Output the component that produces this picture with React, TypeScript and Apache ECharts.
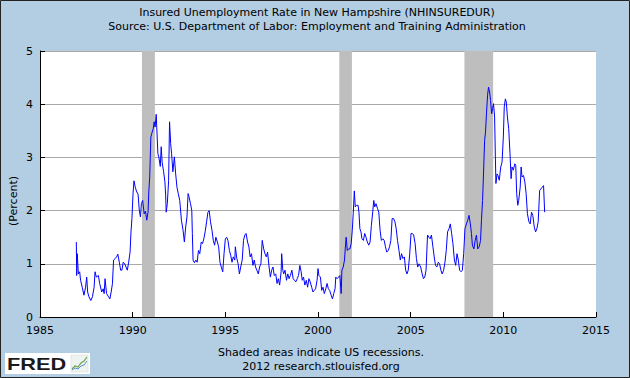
import React, { useEffect, useRef } from "react";
import * as echarts from "echarts";

const years: number[] = [
  1986.96, 1986.98, 1987.01, 1987.07, 1987.14, 1987.19, 1987.28, 1987.37, 1987.46, 1987.52, 1987.57, 1987.64, 1987.74, 1987.83, 1987.92, 1987.97,
  1988.04, 1988.15, 1988.22, 1988.33, 1988.41, 1988.46, 1988.51, 1988.59, 1988.70, 1988.77, 1988.84, 1988.91, 1988.97,
  1989.06, 1989.13, 1989.20, 1989.28, 1989.35, 1989.42, 1989.49, 1989.57, 1989.64, 1989.71, 1989.78, 1989.86, 1989.91, 1989.96,
  1990.02, 1990.07, 1990.14, 1990.22, 1990.29, 1990.36, 1990.42, 1990.47, 1990.54, 1990.62, 1990.69, 1990.76, 1990.83, 1990.87, 1990.92, 1990.98,
  1991.03, 1991.11, 1991.16, 1991.21, 1991.27, 1991.30, 1991.36, 1991.41, 1991.49, 1991.54, 1991.59, 1991.67, 1991.74, 1991.78, 1991.81, 1991.87, 1991.94, 1991.99,
  1992.05, 1992.10, 1992.17, 1992.25, 1992.32, 1992.39, 1992.46, 1992.54, 1992.63, 1992.72, 1992.79, 1992.86, 1992.93, 1992.99,
  1993.04, 1993.12, 1993.19, 1993.22, 1993.26, 1993.33, 1993.41, 1993.48, 1993.55, 1993.62, 1993.70, 1993.77, 1993.84, 1993.91, 1993.99,
  1994.06, 1994.13, 1994.20, 1994.28, 1994.35, 1994.42, 1994.49, 1994.57, 1994.64, 1994.71, 1994.78, 1994.86, 1994.93,
  1995.00, 1995.07, 1995.14, 1995.22, 1995.29, 1995.36, 1995.43, 1995.51, 1995.54, 1995.62, 1995.69, 1995.76, 1995.83, 1995.91, 1995.98,
  1996.05, 1996.12, 1996.20, 1996.27, 1996.34, 1996.41, 1996.49, 1996.56, 1996.63, 1996.70, 1996.78, 1996.85, 1996.92, 1996.99,
  1997.07, 1997.14, 1997.21, 1997.28, 1997.36, 1997.43, 1997.50, 1997.57, 1997.64, 1997.72, 1997.79, 1997.86, 1997.93,
  1998.01, 1998.04, 1998.10, 1998.15, 1998.22, 1998.30, 1998.37, 1998.44, 1998.51, 1998.59, 1998.66, 1998.73, 1998.80, 1998.88, 1998.95,
  1999.02, 1999.09, 1999.15, 1999.22, 1999.29, 1999.37, 1999.44, 1999.51, 1999.58, 1999.66, 1999.73, 1999.80, 1999.87, 1999.95,
  2000.00, 2000.05, 2000.13, 2000.20, 2000.27, 2000.34, 2000.42, 2000.49, 2000.56, 2000.63, 2000.71, 2000.78, 2000.85, 2000.92, 2000.96,
  2001.03, 2001.11, 2001.18, 2001.25, 2001.29, 2001.36, 2001.43, 2001.47, 2001.52, 2001.58, 2001.65, 2001.72, 2001.79, 2001.85, 2001.90, 2001.96,
  2002.01, 2002.08, 2002.16, 2002.21, 2002.26, 2002.32, 2002.37, 2002.45, 2002.52, 2002.59, 2002.66, 2002.74, 2002.81, 2002.88, 2002.95,
  2003.01, 2003.06, 2003.13, 2003.21, 2003.28, 2003.35, 2003.42, 2003.50, 2003.57, 2003.64, 2003.71, 2003.79, 2003.86, 2003.93,
  2004.00, 2004.08, 2004.15, 2004.22, 2004.29, 2004.37, 2004.44, 2004.51, 2004.58, 2004.66, 2004.73, 2004.80, 2004.87, 2004.95,
  2005.02, 2005.09, 2005.16, 2005.24, 2005.31, 2005.38, 2005.45, 2005.54, 2005.62, 2005.69, 2005.76, 2005.83, 2005.91, 2005.98,
  2006.05, 2006.12, 2006.20, 2006.27, 2006.34, 2006.41, 2006.49, 2006.56, 2006.63, 2006.70, 2006.78, 2006.85, 2006.92, 2006.99,
  2007.07, 2007.14, 2007.21, 2007.28, 2007.36, 2007.43, 2007.50, 2007.57, 2007.64, 2007.72, 2007.79, 2007.86, 2007.93,
  2008.01, 2008.08, 2008.15, 2008.22, 2008.28, 2008.33, 2008.41, 2008.48, 2008.55, 2008.62, 2008.70, 2008.77, 2008.82, 2008.88, 2008.93, 2008.99,
  2009.04, 2009.09, 2009.15, 2009.20, 2009.26, 2009.31, 2009.37, 2009.42, 2009.47, 2009.53, 2009.57, 2009.60, 2009.66, 2009.71, 2009.78, 2009.86, 2009.93,
  2010.00, 2010.05, 2010.11, 2010.16, 2010.22, 2010.29, 2010.36, 2010.42, 2010.47, 2010.54, 2010.62, 2010.67, 2010.72, 2010.78, 2010.83, 2010.91, 2010.96,
  2011.01, 2011.09, 2011.16, 2011.23, 2011.30, 2011.38, 2011.45, 2011.52, 2011.59, 2011.67, 2011.74, 2011.81, 2011.88, 2011.96,
  2012.03, 2012.10, 2012.17, 2012.23,
];

const rates: number[] = [
  1.41, 0.78, 1.19, 0.81, 0.85, 0.69, 0.56, 0.41, 0.56, 0.75, 0.47, 0.38, 0.31, 0.38, 0.56, 0.85,
  0.75, 0.78, 0.63, 0.47, 0.53, 0.44, 0.72, 0.44, 0.38, 0.34, 0.47, 0.63, 1.07,
  1.10, 1.13, 1.18, 1.03, 0.88, 0.88, 1.03, 1.00, 0.94, 0.88, 1.02, 1.22, 1.60, 1.85,
  2.32, 2.56, 2.44, 2.35, 2.31, 2.00, 1.88, 2.13, 2.19, 1.94, 1.99, 1.82, 1.97, 2.35, 2.63, 3.38,
  3.45, 3.54, 3.67, 3.57, 3.81, 3.57, 3.07, 3.01, 2.83, 3.20, 2.91, 2.73, 2.54, 2.29, 1.97, 2.13, 2.57, 3.67,
  3.26, 3.07, 2.73, 3.01, 2.69, 2.44, 2.32, 2.19, 1.82, 1.63, 1.41, 1.69, 1.88, 2.32,
  2.26, 2.13, 2.00, 1.57, 1.07, 1.02, 1.07, 1.03, 1.25, 1.19, 1.41, 1.38, 1.47, 1.60, 1.79,
  1.97, 2.00, 1.79, 1.63, 1.44, 1.35, 1.50, 1.41, 1.32, 1.03, 0.94, 0.85, 1.19,
  1.47, 1.50, 1.44, 1.25, 1.16, 1.03, 1.13, 1.07, 1.32, 1.10, 1.00, 0.81, 0.94, 1.07, 1.44,
  1.54, 1.57, 1.41, 1.32, 1.13, 1.19, 0.97, 1.07, 0.94, 0.88, 0.81, 0.94, 1.00, 1.44,
  1.28, 1.19, 1.13, 1.22, 0.94, 0.75, 0.88, 0.94, 0.78, 0.81, 0.63, 0.72, 0.60,
  0.85, 1.19, 0.88, 0.81, 0.88, 0.69, 0.81, 0.72, 0.78, 0.88, 0.72, 0.69, 0.66, 0.72, 0.78,
  0.97, 0.85, 0.69, 0.75, 0.60, 0.69, 0.56, 0.72, 0.66, 0.56, 0.47, 0.50, 0.53, 0.69,
  0.91, 0.78, 0.75, 0.50, 0.56, 0.44, 0.53, 0.63, 0.53, 0.50, 0.41, 0.34, 0.44, 0.53, 0.75,
  0.72, 0.75, 0.78, 0.44, 0.88, 0.94, 1.07, 1.28, 1.50, 1.25, 1.28, 1.28, 1.38, 1.63, 1.94, 2.37,
  2.07, 2.10, 2.10, 1.97, 1.66, 1.60, 1.47, 1.44, 1.57, 1.50, 1.41, 1.35, 1.41, 1.72, 1.97,
  2.19, 2.07, 2.13, 2.04, 1.97, 1.63, 1.44, 1.47, 1.44, 1.32, 1.22, 1.25, 1.32, 1.44,
  1.85, 1.85, 1.79, 1.66, 1.44, 1.25, 1.07, 1.19, 1.10, 1.13, 0.88, 0.81, 0.88, 1.19,
  1.57, 1.57, 1.54, 1.38, 1.10, 0.94, 1.00, 0.94, 0.81, 0.72, 0.75, 0.88, 1.54, 1.50,
  1.47, 1.54, 1.32, 1.13, 0.97, 0.94, 1.03, 1.00, 0.88, 0.81, 0.88, 1.03, 1.25, 1.60,
  1.66, 1.75, 1.57, 1.38, 1.07, 0.97, 1.19, 1.07, 0.88, 0.85, 0.88, 1.19, 1.66,
  1.75, 1.82, 1.91, 1.75, 1.57, 1.35, 1.28, 1.44, 1.54, 1.28, 1.32, 1.44, 1.82, 2.19, 2.69, 3.32,
  3.48, 3.82, 4.17, 4.32, 4.23, 4.07, 3.82, 3.92, 4.01, 3.76, 3.01, 2.51, 2.69, 2.66, 2.57, 2.82, 2.91,
  3.38, 3.95, 4.10, 4.04, 3.76, 3.54, 3.07, 2.60, 2.82, 2.76, 2.88, 2.85, 2.32, 2.10, 2.19, 2.44, 2.82,
  2.63, 2.66, 2.54, 2.32, 1.94, 1.79, 1.75, 1.97, 1.91, 1.69, 1.60, 1.66, 1.79, 2.38,
  2.41, 2.44, 2.47, 1.97,
];

const recessionStarts: number[] = [1990.5, 2001.15, 2007.9];
const recessionEnds: number[] = [1991.2, 2001.83, 2009.45];

const xTicks = { min: 1985, max: 2015, step: 5 };
const yTicks = { min: 0, max: 5, step: 1 };

const titleText = "Insured Unemployment Rate in New Hampshire (NHINSUREDUR)";
const subtitleText = "Source: U.S. Department of Labor: Employment and Training Administration";
const yAxisName = "(Percent)";
const noteText = "Shaded areas indicate US recessions.";
const creditText = "2012 research.stlouisfed.org";
const logoText = "FRED";

const FONT = "DejaVu Sans";

export default function App() {
  const ref = useRef<HTMLDivElement>(null);
  useEffect(() => {
    if (!ref.current) return;
    const chart = echarts.init(ref.current, undefined, { renderer: "svg" });
    const data = years.map((y, i) => [y, rates[i]]);
    const areas = recessionStarts.map((s, i) => [{ xAxis: s }, { xAxis: recessionEnds[i] }]);
    const txt = (text: string, x: number, y: number, extra: any = {}) => ({
      type: "text",
      x,
      y,
      z: 10,
      style: {
        text,
        fill: "#000",
        fontSize: 11,
        fontFamily: FONT,
        align: "center",
        verticalAlign: "middle",
        ...extra,
      },
    });
    chart.setOption({
      animation: false,
      backgroundColor: "#b3cde3",
      grid: {
        left: 40,
        right: 34,
        top: 51,
        bottom: 61,
        show: true,
        backgroundColor: "#ffffff",
        borderWidth: 0,
      },
      xAxis: {
        type: "value",
        min: xTicks.min,
        max: xTicks.max,
        interval: xTicks.step,
        axisLine: { show: true, onZero: false, lineStyle: { color: "#000", width: 1 } },
        axisTick: { show: true, inside: true, length: 5, lineStyle: { color: "#000" } },
        axisLabel: {
          color: "#000",
          fontSize: 11,
          fontFamily: FONT,
          margin: 8,
          formatter: (v: number) => String(v),
        },
        splitLine: { show: false },
      },
      yAxis: {
        type: "value",
        min: yTicks.min,
        max: yTicks.max,
        interval: yTicks.step,
        axisLine: { show: true, lineStyle: { color: "#000", width: 1 } },
        axisTick: { show: true, inside: true, length: 5, lineStyle: { color: "#000" } },
        axisLabel: { color: "#000", fontSize: 11, fontFamily: FONT, margin: 7 },
        splitLine: { show: true, lineStyle: { color: "#aaaaaa", width: 1 } },
      },
      series: [
        {
          type: "line",
          data,
          showSymbol: false,
          symbol: "none",
          lineStyle: { color: "#0000ff", width: 1 },
          itemStyle: { color: "#0000ff" },
          markArea: {
            silent: true,
            itemStyle: { color: "#bebebe", opacity: 1 },
            data: areas,
          },
        },
      ],
      graphic: [
        txt(titleText, 317, 12),
        txt(subtitleText, 317, 26),
        { ...txt(yAxisName, 13, 201), rotation: Math.PI / 2 },
        txt(noteText, 321, 352),
        txt(creditText, 321, 366),
        {
          type: "rect",
          z: 10,
          shape: { x: 5, y: 353, width: 85, height: 21 },
          style: { fill: "#ffffff" },
        },
        {
          type: "text",
          x: 7,
          y: 363.5,
          z: 11,
          scaleX: 1.28,
          style: {
            text: logoText,
            fill: "#1a1a1a",
            fontSize: 17,
            fontWeight: "bold",
            fontFamily: "Liberation Sans",
            align: "left",
            verticalAlign: "middle",
          },
        },
        {
          type: "rect",
          z: 11,
          shape: { x: 71, y: 355, width: 17, height: 17 },
          style: { fill: "#eef2f0", stroke: "#d0d8d4", lineWidth: 0.5 },
        },
        {
          type: "polyline",
          z: 12,
          shape: { points: [[72, 369], [75, 366], [78, 367], [81, 363], [84, 361], [87, 357]] },
          style: { stroke: "#6aa84f", lineWidth: 1.2, fill: "none" },
        },
        {
          type: "polyline",
          z: 12,
          shape: { points: [[72, 370], [75, 368], [78, 369], [81, 366], [84, 365], [87, 361]] },
          style: { stroke: "#5b8fd6", lineWidth: 1, fill: "none" },
        },
        {
          type: "rect",
          z: 20,
          shape: { x: 0.5, y: 0.5, width: 629, height: 377 },
          style: { fill: "none", stroke: "#222", lineWidth: 1 },
        },
      ],
    });
    return () => chart.dispose();
  }, []);
  return (
    <div
      ref={ref}
      style={{ position: "fixed", left: 0, top: 0, width: 630, height: 378 }}
    />
  );
}
